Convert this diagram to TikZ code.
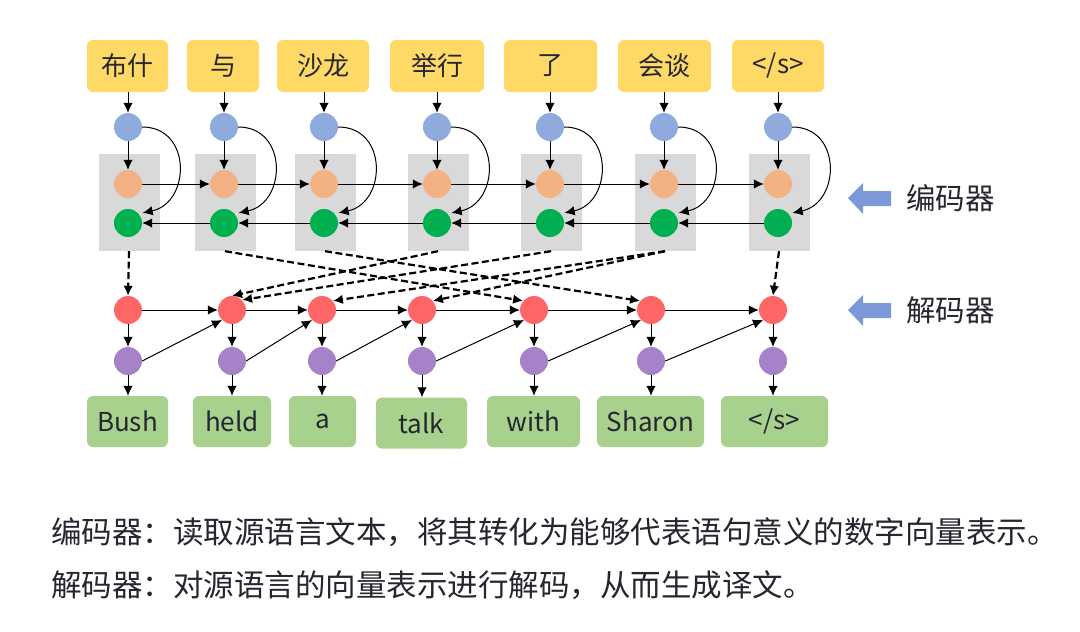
\documentclass[tikz,border=0pt]{standalone}
\usepackage{fontspec}
\setmainfont{Noto Sans CJK SC}
\usetikzlibrary{arrows.meta}
\definecolor{cyel}{HTML}{FFD966}
\definecolor{cblue}{HTML}{8FAADC}
\definecolor{corange}{HTML}{F4B183}
\definecolor{cgreen}{HTML}{00B050}
\definecolor{cgray}{HTML}{D9D9D9}
\definecolor{cred}{HTML}{FF6666}
\definecolor{cpurple}{HTML}{A682C8}
\definecolor{cgbox}{HTML}{A9D18E}
\definecolor{carrow}{HTML}{7B98D8}
\definecolor{ctext}{HTML}{262630}
\begin{document}
\begin{tikzpicture}[x=1pt,y=-1pt,
  ybox/.style={rectangle, rounded corners=6pt, fill=cyel, minimum height=52pt, inner sep=0pt, font=\fontsize{26}{30}\selectfont, text=ctext},
  obox/.style={rectangle, rounded corners=6pt, fill=cgbox, minimum height=51pt, inner sep=0pt, font=\fontsize{26}{30}\selectfont, text=ctext},
  grayblk/.style={rectangle, fill=cgray, minimum width=61pt, minimum height=97pt, inner sep=0pt},
  dot/.style={circle, minimum size=28pt, inner sep=0pt, draw=none},
  arr/.style={-{Latex[length=10pt,width=9.5pt]}, line width=1pt, black},
  darr/.style={-{Latex[length=10pt,width=9.5pt]}, line width=2.2pt, black, dash pattern=on 7pt off 3.5pt},
  lbl/.style={anchor=west, inner sep=0pt, text=ctext}
]
\useasboundingbox[fill=white] (0,0) rectangle (1080,632);

% encoder input boxes
\foreach \i/\x/\w/\t in {1/127.5/81/布什,2/223/72/与,3/323/92/沙龙,4/437/94/举行,5/550.5/93/了,6/664.5/93/会谈,7/778/92/{</s>}}
  \node[ybox, minimum width=\w pt] (y\i) at (\x,66) {\t};

% encoder columns
\foreach \i/\x in {1/128,2/224,3/324,4/437,5/550,6/664,7/778} {
  \node[grayblk] (gb\i) at (\x+1,202.5) {};
  \node[dot, fill=cblue] (b\i) at (\x,127) {};
  \node[dot, fill=corange] (o\i) at (\x,184) {};
  \node[dot, fill=cgreen] (g\i) at (\x,223) {};
}

% decoder columns
\foreach \i/\x in {1/128,2/232,3/322,4/422,5/534,6/651,7/773} {
  \node[dot, fill=cred] (r\i) at (\x,310) {};
  \node[dot, fill=cpurple] (p\i) at (\x,361) {};
}

% output boxes
\foreach \i/\x/\w/\t/\yy in {1/127.5/81/Bush/421.5,2/232/78/held/421.5,3/322.5/67/a/421.5,4/421.5/91/talk/423,5/533.5/93/with/421.5,6/650.5/107/Sharon/421.5,7/774.5/107/{</s>}/421.5}
  \node[obox, minimum width=\w pt] (w\i) at (\x,\yy) {\t};

% encoder / decoder arrows
\foreach \i in {1,...,7} {
  \draw[arr] (y\i.south -| b\i.north) -- (b\i.north);
  \draw[arr] (b\i) -- (o\i);
  \draw[arr] (b\i.east) .. controls +(50,0) and +(48,-10) .. ([shift={(3,-2)}]g\i.35);
  \draw[arr] (r\i) -- (p\i);
  \draw[arr] (p\i.south) -- (p\i.south |- w\i.north);
}
\foreach \i/\j in {1/2,2/3,3/4,4/5,5/6,6/7} {
  \draw[arr] (o\i) -- (o\j);
  \draw[arr] (g\j) -- (g\i);
  \draw[arr] (r\i) -- (r\j);
  \draw[arr] (p\i.east) -- (r\j.225);
}

% attention / dashed connections
\draw[darr] (gb1.south) -- (r1.north);
\draw[darr] (gb7.south) -- (r7.north);
\draw[darr] (gb2.south) -- (r5.140);
\draw[darr] (gb3.south) -- (r6.140);
\draw[darr] (gb4.south) -- (r2.north);
\draw[darr] (gb5.south) -- (r2.45);
\draw[darr] (gb6.south) -- (r3.40);
\draw[darr] (gb6.south) -- (r4.40);

% side labels
\fill[carrow] (848,198) -- (863,183) -- (863,191) -- (891,191) -- (891,206) -- (863,206) -- (863,214) -- cycle;
\fill[carrow] (848,310) -- (863,295) -- (863,303) -- (891,303) -- (891,318) -- (863,318) -- (863,326) -- cycle;
\node[lbl, font=\fontsize{29.5}{32}\selectfont] (lenc) at (906,198) {编码器};
\node[lbl, font=\fontsize{29.5}{32}\selectfont] (ldec) at (906,310) {解码器};

% captions
\node[lbl, font=\fontsize{30.5}{34}\selectfont] (t1) at (51,532) {编码器：读取源语言文本，将其转化为能够代表语句意义的数字向量表示。};
\node[lbl, font=\fontsize{30.5}{34}\selectfont] (t2) at (51,585) {解码器：对源语言的向量表示进行解码，从而生成译文。};
\end{tikzpicture}
\end{document}
